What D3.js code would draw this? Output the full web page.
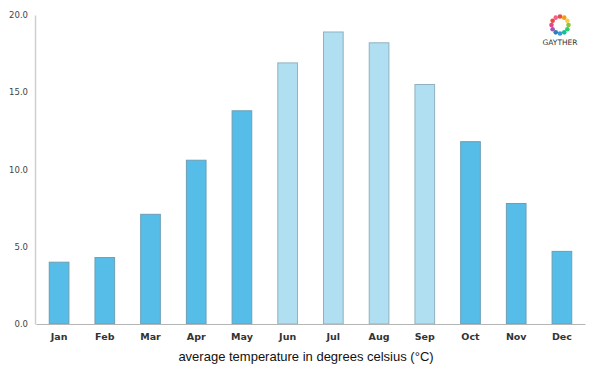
<meta charset="utf-8">
<script src="https://d3js.org/d3.v7.min.js"></script>
<style>
  body { margin: 0; background: #fff; }
</style>
<div id="chart"></div>
<script>
  // monthly averages
  const months = ["Jan","Feb","Mar","Apr","May","Jun","Jul","Aug","Sep","Oct","Nov","Dec"]
  const temps = [4.0, 4.3, 7.1, 10.6, 13.8, 16.9, 18.9, 18.2, 15.5, 11.8, 7.8, 4.7]
  const summer = ["Jun","Jul","Aug","Sep"]
  const yTicks = [0, 5, 10, 15, 20]
  const logoColors = ["#e94e3c","#f39c12","#f4d03f","#8bc34a","#2ecc71","#1abc9c","#3498db","#2c7fb8","#9b59b6","#e84393","#e74c3c","#f06292"]

  const width = 600, height = 375
  const margin = {top: 15, right: 15, bottom: 51, left: 35}

  const svg = d3.select("#chart").append("svg")
    .attr("width", width)
    .attr("height", height)

  const x = d3.scaleBand()
    .domain(months)
    .range([margin.left + 1, width - margin.right])
    .paddingInner(0.57)
    .paddingOuter(0.29)

  const y = d3.scaleLinear()
    .domain([0, 20])
    .range([height - margin.bottom, margin.top])

  // bars
  svg.selectAll("rect.bar")
    .data(months)
    .enter().append("rect")
    .attr("class", "bar")
    .attr("x", d => x(d))
    .attr("y", (d, i) => y(temps[i]))
    .attr("width", x.bandwidth())
    .attr("height", (d, i) => y(0) - y(temps[i]))
    .attr("fill", d => summer.includes(d) ? "#b1dff2" : "#55bde8")
    .attr("stroke", d => summer.includes(d) ? "#8fb0bf" : "#6a9fb5")
    .attr("stroke-width", 1)

  // y axis
  const yaxis = d3.axisLeft(y).tickValues(yTicks).tickSize(0).tickPadding(7).tickFormat(d3.format(".1f"))
  const Y = svg.append("g")
    .attr("transform", "translate(" + margin.left + ",0)")
    .call(yaxis)
  Y.select(".domain").attr("stroke", "#cfcfcf").attr("stroke-width", 1.5)
  Y.selectAll("text").style("font-family", "'DejaVu Sans', sans-serif").style("font-size", "8.5px").attr("fill", "#444")

  // x axis
  const xaxis = d3.axisBottom(x).tickSize(0).tickPadding(9)
  const X = svg.append("g")
    .attr("transform", "translate(0," + y(0) + ")")
    .call(xaxis)
  X.select(".domain").attr("stroke", "#b5b5b5").attr("stroke-width", 1.2)
  X.selectAll("text").style("font-family", "'DejaVu Sans', sans-serif").style("font-size", "9.5px").style("font-weight", "bold").attr("fill", "#333")

  // title under the chart
  svg.append("text")
    .attr("x", 306)
    .attr("y", 361)
    .attr("text-anchor", "middle")
    .style("font-family", "'Liberation Sans', Arial, sans-serif")
    .style("font-size", "13px")
    .attr("fill", "#111")
    .text("average temperature in degrees celsius (°C)")

  // logo
  const logo = svg.append("g").attr("transform", "translate(560,25)")
  logo.selectAll("circle")
    .data(logoColors)
    .enter().append("circle")
    .attr("cx", (d, i) => 8.5 * Math.cos(i / logoColors.length * 2 * Math.PI - Math.PI / 2))
    .attr("cy", (d, i) => 8.5 * Math.sin(i / logoColors.length * 2 * Math.PI - Math.PI / 2))
    .attr("r", 2.3)
    .attr("fill", d => d)
  logo.append("text")
    .attr("y", 20)
    .attr("text-anchor", "middle")
    .style("font-family", "'DejaVu Sans', sans-serif")
    .style("font-size", "7.5px")
    .attr("fill", "#333")
    .text("GAYTHER")
</script>
